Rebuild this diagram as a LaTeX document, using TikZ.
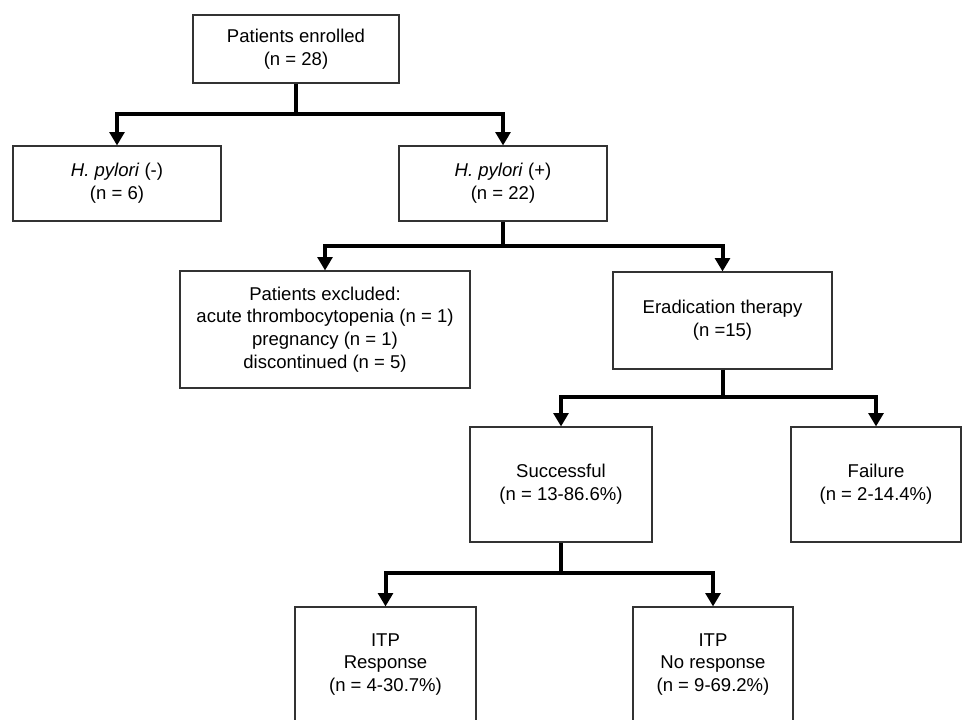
\documentclass[tikz,border=0pt]{standalone}
\usepackage{fontspec}
\setmainfont{Liberation Sans}
\usetikzlibrary{arrows.meta}
\begin{document}
\begin{tikzpicture}[x=0.75pt, y=-0.75pt,
  stem/.style={line width=3pt},
  branch/.style={line width=3pt, -{Triangle[length=10pt, width=11pt]}}]
  \useasboundingbox (0,0) rectangle (962,719);
  \clip (0,0) rectangle (962,719);

  % Boxes
  \begin{scope}[every node/.style={draw=black!80, line width=0.8pt, align=center, inner sep=0pt,
      font=\fontsize{13.9}{17}\selectfont}]
    \node[minimum width=154.5pt, minimum height=51pt] (enrolled) at (296,49) {Patients enrolled\\(n = 28)};

    \node[minimum width=156pt, minimum height=56.25pt] (hneg) at (117,183.5) {\textit{H. pylori} (-)\\(n = 6)};
    \node[minimum width=156pt, minimum height=56.25pt] (hpos) at (503,183.5) {\textit{H. pylori} (+)\\(n = 22)};

    \node[minimum width=217.5pt, minimum height=87.75pt] (excluded) at (325,329.5)
      {Patients excluded:\\acute thrombocytopenia (n = 1)\\pregnancy (n = 1)\\discontinued (n = 5)};
    \node[minimum width=164.25pt, minimum height=72.75pt] (eradication) at (722.5,320.5) {Eradication therapy\\(n =15)};

    \node[minimum width=136.5pt, minimum height=86.25pt] (success) at (561,484.5) {Successful\\(n = 13-86.6\%)};
    \node[minimum width=127.5pt, minimum height=86.25pt] (failure) at (876,484.5) {Failure\\(n = 2-14.4\%)};

    \node[minimum width=135.75pt, minimum height=86.25pt] (response) at (385.5,664.5) {ITP\\Response\\(n = 4-30.7\%)};
    \node[minimum width=120pt, minimum height=86.25pt] (noresponse) at (713,664.5) {ITP\\No response\\(n = 9-69.2\%)};
  \end{scope}

  % Split points
  \coordinate (s1) at (296,114);
  \coordinate (s2) at (503,246);
  \coordinate (s3) at (722.5,397);
  \coordinate (s4) at (561,573);

  % Branches
  \draw[stem] (enrolled.south) -- (s1);
  \draw[branch] (s1) -| (hneg.north);
  \draw[branch] (s1) -| (hpos.north);

  \draw[stem] (hpos.south) -- (s2);
  \draw[branch] (s2) -| (excluded.north);
  \draw[branch] (s2) -| (eradication.north);

  \draw[stem] (eradication.south) -- (s3);
  \draw[branch] (s3) -| (success.north);
  \draw[branch] (s3) -| (failure.north);

  \draw[stem] (success.south) -- (s4);
  \draw[branch] (s4) -| (response.north);
  \draw[branch] (s4) -| (noresponse.north);
\end{tikzpicture}
\end{document}
